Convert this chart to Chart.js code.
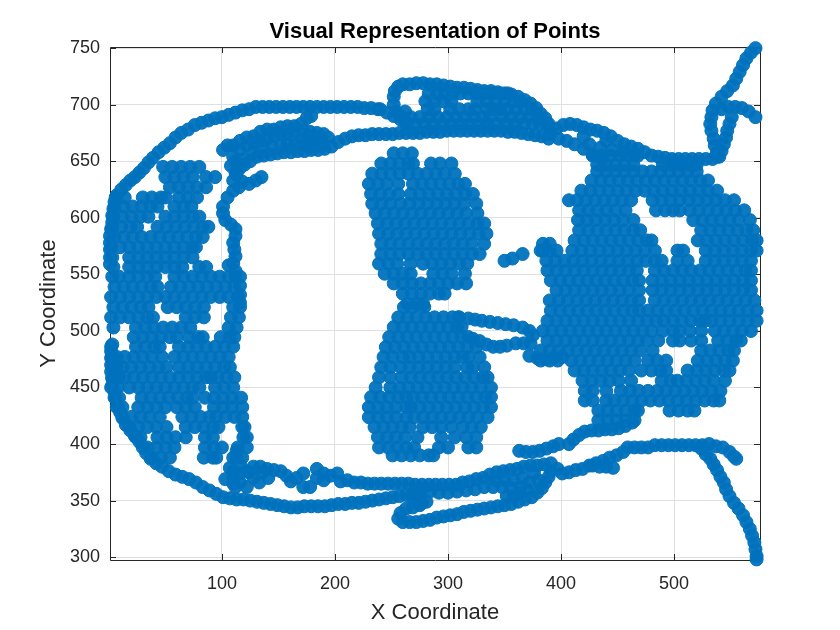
<!DOCTYPE html>
<html>
<head>
<meta charset="utf-8">
<title>Visual Representation of Points</title>
<script src="https://cdn.jsdelivr.net/npm/chart.js@4"></script>
<style>
  html, body { margin: 0; padding: 0; background: #fff; }
  canvas { display: block; }
</style>
</head>
<body>
<canvas id="pointsChart" width="840" height="630"></canvas>
<script>
const xTicks = [100, 200, 300, 400, 500];
const yTicks = [300, 350, 400, 450, 500, 550, 600, 650, 700, 750];

// outlines
const hornX = [572,568,564,561,558,555,552,547,542,537,534,533,532,533,535,536,538,538];
const hornY = [750,746,741,735,729,723,717,712,707,701,695,689,683,677,670,664,658,654];
const hookX = [572,566,560,554,548,542,551,549,547,546,544,542,540];
const hookY = [689,694,697,698,698,696,689,683,677,671,665,659,654];
const browX = [534,528,522,516,510,504,498,492,486,480,474,468,462,456,450,444,438,432,426,420,414,408,402,396,390,425,435,445,455,465,420,440,398,405,412,420,428,436];
const browY = [652,652,652,652,652,652,652,653,654,655,658,661,663,665,668,672,675,677,678,680,682,683,682,679,674,665,662,660,658,655,672,668,670,668,665,661,656,652];
const innerTopX = [389,383,377,371,365,359,353,347,341,335,329,323,317,311,305,299,293,287,281,275,269,263,257,251,245,239,233,227,221,215,209,203,197,191,185,179,173,167,161,155,149,143,137,131,125,120,116,113,110];
const innerTopY = [670,672,673,674,675,676,676,677,677,677,677,677,677,677,677,677,676,676,676,675,675,675,675,674,674,674,674,673,673,672,670,667,663,661,660,660,659,659,658,658,657,656,655,654,650,647,644,638,633];
const outerTopX = [1,1,1,1,1,2,3,3,4,5,7,11,15,19,23,27,31,35,39,44,49,54,59,64,70,76,82,88,94,100,106,112,118,124,130,136,142,148,154,160,166,172,178,184,190,196,202,208,214,220,226,232,238,240,246,252,258,264];
const outerTopY = [559,565,572,578,584,590,596,602,608,614,620,625,629,633,636,640,644,649,653,658,662,666,671,675,678,682,684,686,688,689,691,693,695,696,698,698,698,698,698,698,698,698,698,698,698,698,698,698,698,698,697,697,696,696,693,690,687,684];
const humpX = [252,253,256,260,266,272,278,284,290,296,302,308,314,320,326,332,338,344,350,356,362,368,373,378,382,386,389,391,252,254,258,262];
const humpY = [707,712,716,718,718,719,719,718,718,717,716,715,715,714,713,712,712,711,710,709,707,704,701,697,692,688,683,679,700,694,690,694];
const lobesX = [101,105,110,116,122,128,134,140,146,152,158,164,170,175,179,172,178,184,190,194,188,182,176,170,164,158,152,146,140,134,128,122,116,110,112,108,120,128,136,144,152,158,164,170,176,182,188,112,118,124,130,135];
const lobesY = [660,664,664,668,671,672,676,678,678,680,681,681,683,688,690,677,676,675,674,671,668,667,668,670,674,674,674,672,670,668,666,664,660,654,650,646,652,658,662,664,664,665,664,664,664,662,663,640,632,630,633,636];
const columnX = [115,110,105,101,101,103,108,112,112,110,111,112,110,106,112,116,116,116,116];
const columnY = [627,624,618,610,604,598,594,590,584,578,572,566,560,558,553,548,540,532,525];
const outerBottomX = [3,2,2,2,2,3,3,5,6,8,10,12,15,19,23,27,30,33,37,42,47,53,59,65,71,77,83,89,95,101,107,113,119,125,131,137,143,149,155,161,167,173,179,185,191,197,203,209,215,221,227,233,239,245,251,257,263,269];
const outerBottomY = [488,482,476,470,464,458,452,446,440,434,428,423,417,412,407,402,397,392,387,383,380,376,373,371,369,366,362,359,356,353,352,351,351,350,349,348,347,346,345,344,344,345,345,345,345,346,347,347,348,348,349,350,351,352,353,354,355,356];
const jawX = [113,113,116,110,110,116,122,128,134,140,146,152,157,161,166,172,172,178,184,184,190,190,196,202,205,211,217,223,229,235,241,247,253,259,265,271,277,283,289,295,301,307,313,319,325,331,337,343,349,355,361,367,373,379,385,391,397,401,407,413,419,425,431,437,443,449,455,459,465,471,477,483,489,495,501,507,513,519,525,531,537,543,549,553,555];
const jawY = [394,388,382,376,370,374,376,380,380,378,377,376,372,367,370,374,362,362,378,370,368,374,372,374,367,368,366,366,365,365,365,365,365,365,365,364,364,364,364,364,364,364,366,367,369,370,373,375,376,377,378,380,381,381,382,383,378,374,375,377,378,381,383,385,388,390,393,397,397,397,397,399,399,399,399,399,399,399,399,400,398,397,393,389,387];
const jawClusterX = [110,116,122,103,107,112,124,133,141,128,136,428,434,440,446];
const jawClusterY = [365,366,362,369,379,362,375,366,370,370,375,381,380,380,379];
const neckX = [524,528,532,535,538,541,544,546,549,553,557,561,564,567,569,571,572,573,573];
const neckY = [396,391,387,382,377,371,366,360,354,348,343,337,331,325,319,313,307,301,298];
const chinX = [269,275,281,275,269,263,258,256,260,266,272,278,284,290,296,302,308,314,320,326,332,338,344,350,356,362,368,374,379,383,386,389,391,276,284,292,300,308,316,324,332,340,348,356,364,372,380,376,366,358,350,342,352,358,364,370,277];
const chinY = [352,356,349,346,344,343,339,334,331,331,331,332,333,335,336,337,338,340,341,342,343,344,345,346,347,349,351,353,357,361,366,371,376,358,358,357,357,358,359,360,362,362,362,361,362,366,368,374,370,368,368,368,354,354,357,360,348];
const smileX = [363,369,375,381,387,393,398,407,411,416,421,427,433,439,445,451,457,463];
const smileY = [394,393,393,394,396,398,400,400,404,408,411,412,412,413,413,414,416,419];
const bridgeX = [310,318,324,330,337,344,351,358,366,372,375,322,328,334,340,346,352,360,367,373,372,379,386,393,401,350,357,366,384,390,384];
const bridgeY = [512,511,510,509,508,507,506,505,503,500,496,493,491,488,486,486,487,489,489,489,478,476,475,476,477,562,564,568,577,577,571];

// dense areas, listed row by row: one y, then the x values seen filled on that row
const humpRowY = [710,703,696,689,683];
const humpRowX = [
  [283,290,297,304,311,318,325,332,339,346,353],
  [280,288,296,303,326,334,342,350,358,364],
  [282,288,302,310,318,324,334,340,346,352,360,368,374],
  [267,275,283,291,299,307,315,323,331,337,348,356,364,372,380],
  [263,271,279,287,295,303,311,319,327,335,343,351,359,367,375,381,387]
];
const leftRowY = [645,636,627,618,610,601,592,583,574,565,556.5,548,539,530,521,512,503,494.5,486,477,468,459,450,441,432.6,424,415,406,397,388];
const leftRowX = [
  [48,56,64,72,80],
  [50,58,66,74,86,94],
  [54,62,70,78,86],
  [6,14,30,38,46,50,62,70,78],
  [5,13,21,29,37,43,58,66,73],
  [4,12,20,28,35,50,58,66,74,80],
  [3,11,19,25,43,51,59,67,75,83,88],
  [5,13,21,29,37,45,53,61,69,77,83],
  [2,10,18,26,34,42,50,58,66,74,77],
  [3,18,26,34,42,50,58,66,74],
  [4,18,26,34,42,50,58,65,80,86],
  [3,9,18,26,34,41,58,66,74,82,90,98,106,112],
  [5,13,21,29,37,43,55,63,71,79,87,95,103,111],
  [2,10,18,26,34,42,50,58,66,74,82,90,98,106,114],
  [4,12,20,28,35,52,60,68,76,84,110,116],
  [2,10,18,26,34,39,68,76,84,108,115],
  [4,24,32,40,48,56,64,72,106,113],
  [22,30,38,46,54,60,71,79,83,99,107,111],
  [2,24,32,40,45,62,70,78,86,94,102,110],
  [3,7,14,22,30,38,47,58,66,74,82,90,98,106],
  [3,7,12,20,28,36,44,51,62,70,78,86,94,102,107],
  [3,9,14,22,30,38,46,54,62,70,78,86,90,96,104,111],
  [2,8,18,26,34,42,50,58,66,74,80,94,102,110],
  [5,9,29,37,45,53,61,69,74,85,93,101,109,117],
  [7,12,26,34,42,50,60,68,76,93,101,109,118],
  [12,20,28,36,45,65,73,81,89,95,103,111,118],
  [18,26,34,42,51,68,76,84,92,97,118,120],
  [24,28,43,51,59,68,85,92,119,122],
  [34,42,50,58,85,93,100,114,122],
  [38,46,54,84,92,95,110,118]
];
const upperEyeRowY = [657,648,639,630,621,612.5,604,595,586,577,568,559.5,550.6,542,533,524];
const upperEyeRowX = [
  [252,260,268],
  [241,249,257,265,269,285,293,303],
  [233,241,249,257,265,273,281,289,297,306],
  [230,238,246,256,269,277,285,293,301,309,315],
  [232,240,248,256,267,275,283,291,299,307,315,322],
  [233,241,249,258,266,274,282,290,298,306,314,325],
  [236,244,252,260,268,276,284,292,300,308,316,326],
  [238,246,254,262,270,278,286,294,302,310,318,326,332],
  [239,247,255,263,271,279,287,295,303,311,319,327,334],
  [241,249,257,265,273,281,289,297,305,313,321,332],
  [241,249,257,265,273,281,289,297,305,313,321,328],
  [239,247,255,267,278,286,294,302,310,317],
  [244,252,260,267,287,295,303,315],
  [252,260,268,276,284,292,300,308,316],
  [260,268,276,284,292,297],
  [264,272,278]
];
const lowerEyeRowY = [521,512,503.4,494.6,485.7,477,468,459,450,441.5,432.6,423.7,415,406,397,390];
const lowerEyeRowX = [
  [261,269,279],
  [256,264,272,280,288,296,304,309],
  [252,260,268,276,284,292,300,308,312],
  [248,256,264,272,280,288,296,304,312,318],
  [245,253,261,269,277,285,293,301,309,317,325],
  [243,251,260,266,274,282,290,298,306,313,318,328],
  [241,249,258,266,274,282,290,298,306,317,322,332],
  [239,249,259,267,275,283,291,299,307,315,323,331,335],
  [236,249,257,265,273,281,289,297,305,313,321,329,338],
  [232,240,248,256,263,269,277,285,293,301,309,317,325,333,338],
  [230,238,246,254,263,267,275,283,291,299,307,315,323,331,338],
  [230,238,246,254,263,270,278,286,294,302,310,318,326,335],
  [235,243,251,259,266,278,286,294,303,313,321,329],
  [238,246,254,262,273,294,306,316,325],
  [239,247,255,263,270,292,300,318,325],
  [251,259,267,275,283,287]
];
const rightRowY = [655,647,641,633,624,615.5,606.6,598,589,580,571,562,553.5,544.6,536,527,518,509,500,491.5,482.7,473.8,465,456,447,438.5,429.6,421];
const rightRowX = [
  [428,436,444,452,460,468],
  [432,440,448,456,464,490,498,506,514,520],
  [432,440,448,456,464,472,480,488,496,504,512,520],
  [427,435,443,451,459,467,475,483,491,499,507,515,523,530],
  [418,426,434,442,450,458,466,474,482,490,498,506,514,522,530,538],
  [407,414,422,430,438,446,454,462,481,489,497,505,513,521,529,537,545,553],
  [416,424,432,440,448,457,484,492,499,505,514,522,530,538,546,554,562],
  [415,423,431,439,447,455,464,517,525,533,541,549,557,567],
  [416,424,432,440,448,456,464,470,524,532,540,548,556,564,570],
  [412,420,428,436,444,452,460,468,476,480,521,529,537,545,553,561,569,573],
  [382,390,396,410,418,426,434,442,450,458,466,474,483,503,508,528,536,544,552,560,568,573],
  [387,395,403,411,419,427,435,443,451,459,467,475,483,489,503,512,528,536,544,552,560,568],
  [388,396,404,412,420,428,436,444,452,460,467,483,491,499,507,515,523,531,539,547,555,563,568],
  [391,399,407,415,423,431,439,447,455,463,469,481,489,497,505,513,521,529,537,545,553,561,568],
  [396,404,412,420,428,436,444,452,460,469,481,489,497,505,513,521,529,537,545,553,561,568],
  [390,398,406,414,422,430,438,446,454,462,469,483,491,499,507,515,523,531,539,547,555,563,571],
  [391,399,407,415,423,431,439,447,455,463,469,477,485,493,501,509,517,525,533,541,549,557,565,573],
  [388,396,404,412,420,428,436,444,452,460,468,476,484,491,499,507,515,523,527,533,541,549,557,565,573],
  [384,392,400,408,416,424,432,440,448,456,464,472,480,490,499,505,514,524,536,544,552,560,568],
  [388,396,404,412,420,428,436,444,452,460,468,476,486,499,505,515,524,539,547,555,559],
  [382,390,398,406,414,422,430,438,446,454,462,470,481,524,532,540,548,553],
  [382,390,397,409,417,425,433,441,449,457,465,477,485,493,521,529,537,545,552],
  [412,420,428,436,444,452,460,471,480,488,493,512,520,528,536,544,549],
  [419,427,435,443,451,462,489,497,503,511,519,527,535,545],
  [421,428,440,453,461,469,477,485,493,501,509,517,525,533,541],
  [421,428,440,447,455,463,471,479,487,495,503,511,519,527,535,540],
  [433,441,449,457,465,468,496,504,512,518],
  [433,441,449,457,465]
];

const strandSets = [
  [hornX, hornY], [hookX, hookY], [browX, browY], [innerTopX, innerTopY],
  [outerTopX, outerTopY], [humpX, humpY], [lobesX, lobesY], [columnX, columnY],
  [outerBottomX, outerBottomY], [jawX, jawY], [jawClusterX, jawClusterY], [neckX, neckY],
  [chinX, chinY], [smileX, smileY], [bridgeX, bridgeY]
];
const rowSets = [
  [humpRowY, humpRowX], [leftRowY, leftRowX], [upperEyeRowY, upperEyeRowX],
  [lowerEyeRowY, lowerEyeRowX], [rightRowY, rightRowX]
];

const points = [];
strandSets.forEach(([xs, ys]) => xs.forEach((x, i) => points.push({ x: x, y: ys[i] })));
rowSets.forEach(([ys, rows]) => rows.forEach((row, i) => row.forEach(x => points.push({ x: x, y: ys[i] }))));

const axisColor = '#262626';
const fontFamily = '"Liberation Sans", Arial, sans-serif';

// MATLAB style box: inward ticks on all four sides, under the markers
const boxTicks = {
  id: 'boxTicks',
  beforeDatasetsDraw(chart) {
    const { ctx, chartArea: a, scales } = chart;
    ctx.save();
    ctx.strokeStyle = axisColor;
    ctx.lineWidth = 1;
    ctx.beginPath();
    ctx.rect(a.left + 0.5, a.top + 0.5, a.right - a.left, a.bottom - a.top);
    xTicks.forEach(v => {
      const p = Math.round(scales.x.getPixelForValue(v)) + 0.5;
      ctx.moveTo(p, a.bottom); ctx.lineTo(p, a.bottom - 6);
      ctx.moveTo(p, a.top); ctx.lineTo(p, a.top + 6);
    });
    yTicks.forEach(v => {
      const p = Math.round(scales.y.getPixelForValue(v)) + 0.5;
      ctx.moveTo(a.left, p); ctx.lineTo(a.left + 6, p);
      ctx.moveTo(a.right, p); ctx.lineTo(a.right - 6, p);
    });
    ctx.stroke();
    ctx.restore();
  }
};

new Chart(document.getElementById('pointsChart').getContext('2d'), {
  type: 'scatter',
  data: {
    datasets: [{
      data: points,
      showLine: false,
      clip: false,
      pointStyle: 'circle',
      pointRadius: 6.5,
      borderWidth: 1,
      borderColor: '#0072BD',
      backgroundColor: 'rgba(0,114,189,0.95)'
    }]
  },
  options: {
    responsive: false,
    animation: false,
    layout: { padding: { left: 0, right: 80, top: 0, bottom: 0 } },
    plugins: {
      legend: { display: false },
      tooltip: { enabled: false },
      title: {
        display: true,
        fullSize: false,
        text: 'Visual Representation of Points',
        color: '#000',
        font: { family: fontFamily, size: 22, weight: 'bold', lineHeight: 1.2 },
        padding: { top: 19, bottom: 1.6 }
      }
    },
    scales: {
      x: {
        type: 'linear',
        min: 1,
        max: 576,
        afterBuildTicks(scale) { scale.ticks = xTicks.map(v => ({ value: v })); },
        afterFit(scale) { scale.height = 70; },
        grid: { color: '#e0e0e0', lineWidth: 1, drawTicks: false },
        border: { display: false },
        ticks: {
          color: axisColor,
          padding: 13,
          maxRotation: 0,
          autoSkip: false,
          font: { family: fontFamily, size: 18 }
        },
        title: {
          display: true,
          text: 'X Coordinate',
          color: axisColor,
          font: { family: fontFamily, size: 22 },
          padding: { top: 0, bottom: 4 }
        }
      },
      y: {
        type: 'linear',
        min: 297.5,
        max: 751,
        afterBuildTicks(scale) { scale.ticks = yTicks.map(v => ({ value: v })); },
        afterFit(scale) { scale.width = 110; },
        grid: { color: '#e0e0e0', lineWidth: 1, drawTicks: false },
        border: { display: false },
        ticks: {
          color: axisColor,
          padding: 10,
          autoSkip: false,
          font: { family: fontFamily, size: 18 }
        },
        title: {
          display: true,
          text: 'Y Coordinate',
          color: axisColor,
          font: { family: fontFamily, size: 22 },
          padding: { top: 36, bottom: 0 }
        }
      }
    }
  },
  plugins: [boxTicks]
});
</script>
</body>
</html>
